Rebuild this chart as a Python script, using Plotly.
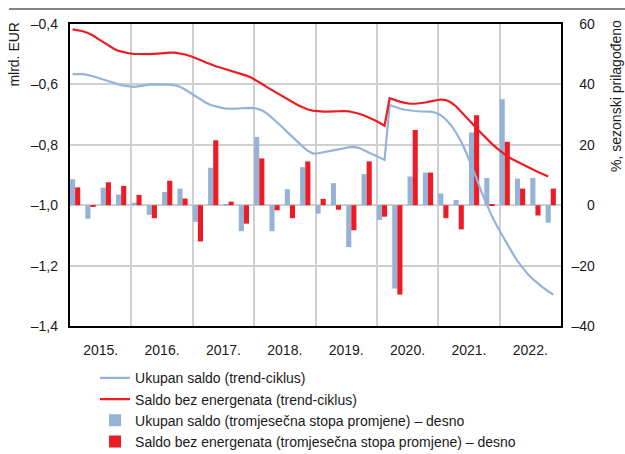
import plotly.graph_objects as go

# ---------------- data ----------------
years = ["2015.", "2016.", "2017.", "2018.", "2019.", "2020.", "2021.", "2022."]

# monthly trend-cycle, mlrd. EUR (Jan 2015 ...)
ukupan_trend = [
    -0.566, -0.565, -0.566, -0.569, -0.573, -0.578, -0.584, -0.590, -0.595, -0.600, -0.604, -0.607,
    -0.608, -0.606, -0.603, -0.601, -0.600, -0.600, -0.600, -0.601, -0.603, -0.608, -0.617, -0.628,
    -0.639, -0.650, -0.660, -0.668, -0.673, -0.677, -0.680, -0.681, -0.680, -0.679, -0.678, -0.678,
    -0.680, -0.686, -0.696, -0.710, -0.725, -0.741, -0.758, -0.775, -0.791, -0.806, -0.820, -0.829,
    -0.828, -0.825, -0.823, -0.820, -0.816, -0.812, -0.808, -0.807, -0.810, -0.817, -0.826, -0.834,
    -0.842, -0.850, -0.668, -0.675, -0.680, -0.684, -0.687, -0.688, -0.689, -0.689, -0.690, -0.694,
    -0.702, -0.716, -0.735, -0.760, -0.790, -0.827, -0.868, -0.912, -0.958, -1.000, -1.037, -1.070,
    -1.100, -1.130, -1.158, -1.185, -1.208, -1.228, -1.245, -1.260, -1.273, -1.285, -1.296,
]
bez_energ_trend = [
    -0.418, -0.420, -0.424, -0.430, -0.438, -0.449, -0.460, -0.471, -0.481, -0.489, -0.494, -0.497,
    -0.499, -0.500, -0.500, -0.500, -0.499, -0.497, -0.496, -0.495, -0.495, -0.497, -0.501, -0.506,
    -0.512, -0.519, -0.527, -0.534, -0.540, -0.545, -0.550, -0.555, -0.560, -0.565, -0.571, -0.578,
    -0.587, -0.598, -0.609, -0.619, -0.628, -0.638, -0.648, -0.658, -0.668, -0.676, -0.683, -0.687,
    -0.689, -0.690, -0.690, -0.689, -0.688, -0.688, -0.689, -0.692, -0.697, -0.703, -0.710, -0.718,
    -0.727, -0.737, -0.646, -0.652, -0.657, -0.661, -0.664, -0.664, -0.663, -0.660, -0.656, -0.652,
    -0.650, -0.652, -0.660, -0.673, -0.690, -0.708, -0.727, -0.746, -0.764, -0.781, -0.797, -0.812,
    -0.826, -0.838, -0.848, -0.857, -0.866, -0.874, -0.882, -0.890, -0.898, -0.905,
]

# quarterly three-month rate of change, % (Q1 2015 ... Q4 2022)
ukupan_stopa = [
    8.6, -4.5, 5.8, 3.5,
    0.8, -3.2, 4.4, 5.5,
    -5.5, 12.4, 0.4, -8.6,
    22.6, -8.6, 5.3, 12.6,
    -2.8, 7.3, -13.9, 10.3,
    -4.9, -27.6, 9.5, 10.8,
    3.9, 1.7, 24.1, 9.0,
    35.1, 8.8, 9.0, -5.8,
]
bez_energ_stopa = [
    5.9, -0.3, 7.6, 6.4,
    3.4, -4.3, 8.1, 2.2,
    -12.0, 21.5, 1.2, -6.1,
    15.5, -1.7, -4.3, 14.5,
    2.1, -1.5, -8.3, 14.5,
    -3.8, -29.6, 24.9, 10.8,
    -4.3, -8.0, 29.8, 0.2,
    21.0, 5.5, -3.4, 5.5,
]

left_ticks = [-1.4, -1.2, -1.0, -0.8, -0.6, -0.4]
left_ticktext = ["\u20131,4", "\u20131,2", "\u20131,0", "\u20130,8", "\u20130,6", "\u20130,4"]
right_ticks = [-40, -20, 0, 20, 40, 60]
right_ticktext = ["\u201340", "\u201320", "\u2007\u20070", "\u200720", "\u200740", "\u200760"]

BLUE = "#95B3D7"
RED = "#EC1C24"
FONT = "Liberation Sans, Arial, sans-serif"

# ---------------- x positions (month index) ----------------
m_ukupan = [m + 0.5 for m in range(len(ukupan_trend))]
m_bez = [m + 0.5 for m in range(len(bez_energ_trend))]
q_blue = [3 * q + 0.5 for q in range(len(ukupan_stopa))]
q_red = [3 * q + 1.5 for q in range(len(bez_energ_stopa))]

fig = go.Figure()

fig.add_trace(go.Scatter(
    x=m_ukupan, y=ukupan_trend, mode="lines", yaxis="y2",
    line=dict(color=BLUE, width=2.2), name="Ukupan saldo (trend-ciklus)",
    legendgroup="a",
))
fig.add_trace(go.Scatter(
    x=m_bez, y=bez_energ_trend, mode="lines", yaxis="y2",
    line=dict(color=RED, width=2.2), name="Saldo bez energenata (trend-ciklus)",
    legendgroup="b",
))
fig.add_trace(go.Bar(
    x=q_blue, y=ukupan_stopa, width=1.0, yaxis="y",
    marker=dict(color=BLUE, line=dict(width=0)),
    name="Ukupan saldo (tromjesečna stopa promjene) \u2013 desno",
    legendgroup="c",
))
fig.add_trace(go.Bar(
    x=q_red, y=bez_energ_stopa, width=1.0, yaxis="y",
    marker=dict(color=RED, line=dict(width=0)),
    name="Saldo bez energenata (tromjesečna stopa promjene) \u2013 desno",
    legendgroup="d",
))

fig.update_layout(
    width=625, height=454,
    margin=dict(l=70, r=64, t=24, b=128, autoexpand=False),
    paper_bgcolor="white", plot_bgcolor="white",
    font=dict(family=FONT, size=14, color="#1a1a1a"),
    barmode="overlay",
    showlegend=True,
    legend=dict(
        x=0.051, y=-0.12, xanchor="left", yanchor="top",
        traceorder="grouped", tracegroupgap=0,
        font=dict(size=14), bgcolor="rgba(0,0,0,0)",
        itemwidth=30,
    ),
    xaxis=dict(
        range=[0, 96],
        tickmode="array", tickvals=[6 + 12 * i for i in range(8)], ticktext=years,
        showgrid=False, zeroline=False, ticks="",
        showline=True, linecolor="#000000", linewidth=1.5, mirror=True,
        ticklabelstandoff=10,
        minor=dict(tickmode="array", tickvals=[12 * i for i in range(1, 8)],
                   showgrid=True, gridcolor="#CFCFCF", gridwidth=1.5, ticks=""),
    ),
    yaxis=dict(
        side="right", range=[-40, 60],
        tickmode="array", tickvals=right_ticks, ticktext=right_ticktext,
        showgrid=True, gridcolor="#CFCFCF", gridwidth=1.5, zeroline=False, ticks="",
        showline=True, linecolor="#000000", linewidth=1.5, mirror=True,
        ticklabelstandoff=6,
    ),
    yaxis2=dict(
        side="left", overlaying="y", range=[-1.4, -0.4],
        tickmode="array", tickvals=left_ticks, ticktext=left_ticktext,
        showgrid=False, zeroline=False, ticks="",
        showline=False, ticklabelstandoff=11,
    ),
    annotations=[
        dict(text="mlrd. EUR", xref="paper", yref="paper", x=-0.114, y=1.013,
             xanchor="center", yanchor="top", textangle=-90, showarrow=False,
             font=dict(size=14)),
        dict(text="%, sezonski prilagođeno", xref="paper", yref="paper", x=1.112, y=1.02,
             xanchor="center", yanchor="top", textangle=-90, showarrow=False,
             font=dict(size=14)),
    ],
    shapes=[
        dict(type="line", xref="paper", yref="paper", x0=-0.124, x1=1.14,
             y0=1.0497, y1=1.0497, layer="above",
             line=dict(color="#5a5a5a", width=1.5)),
    ],
)

fig.write_html(
    "out.html",
    config={"displayModeBar": False},
    post_script="document.body.style.margin='0';document.body.style.padding='0';",
)
